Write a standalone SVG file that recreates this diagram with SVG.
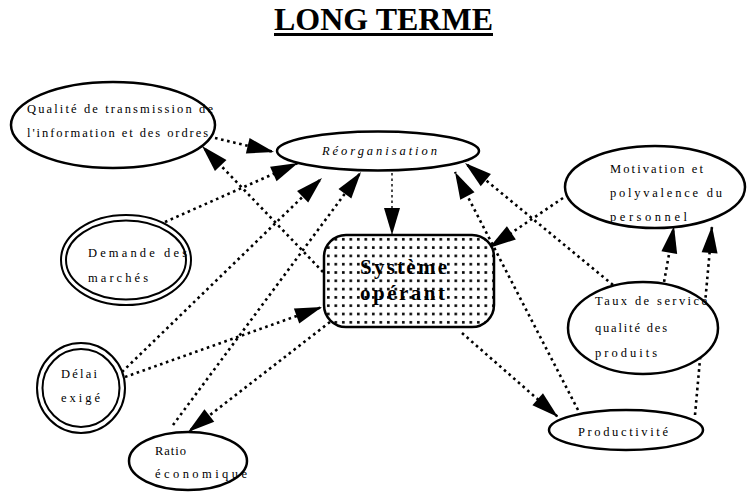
<svg xmlns="http://www.w3.org/2000/svg" width="749" height="493" viewBox="0 0 749 493">
<style>
.node{fill:#fff;stroke:#000;stroke-width:2.5}
.dbl{fill:none;stroke:#000;stroke-width:2}
.t{font-family:"Liberation Serif","Times New Roman",serif;font-size:12.5px;fill:#000}
.e{fill:none;stroke:#000;stroke-width:2.6;stroke-dasharray:2.6 3.6;marker-end:url(#ah)}
.thin{fill:none;stroke:#000;stroke-width:1.4;stroke-dasharray:2.5 3;marker-end:url(#ah)}
</style>
<defs>
<marker id="ah" markerUnits="userSpaceOnUse" markerWidth="28" markerHeight="16" refX="27" refY="8" orient="auto" overflow="visible">
<path d="M0,0 L27,8 L0,16 Z" fill="#000"/>
</marker>
<pattern id="dots" width="7.5" height="8.3" patternUnits="userSpaceOnUse" x="326" y="237">
<rect width="7.5" height="8.3" fill="#fff"/>
<rect x="1" y="1" width="2.6" height="2.6" fill="#000"/>
</pattern>
</defs>
<rect width="749" height="493" fill="#fff"/>
<g id="title">
<text x="383.5" y="30" text-anchor="middle" font-family="'Liberation Serif','Times New Roman',serif" font-size="31" font-weight="bold" textLength="219" lengthAdjust="spacingAndGlyphs">LONG TERME</text>
<rect x="274" y="33" width="219" height="3" fill="#000"/>
</g>
<g id="connectors">
<path class="e" d="M215,138 L274,152"/>
<path class="e" d="M323,272 L202,146"/>
<path class="e" d="M165,222 L298,163"/>
<path class="e" d="M122,372 L322,178"/>
<path class="e" d="M125,377 L322,307"/>
<path class="e" d="M173,425 L361,172"/>
<path class="e" d="M330,322 L188,432"/>
<path class="thin" d="M392,173 L392,235"/>
<path class="e" d="M563,198 L489,248"/>
<path class="e" d="M578,410 L455,172"/>
<path class="e" d="M613,285 L465,163"/>
<path class="e" d="M462,333 L558,417"/>
<path class="e" d="M663,288 L674,226"/>
<path class="e" d="M695,415 L712,226"/>
</g>
<g id="qualite">
<ellipse class="node" cx="113" cy="125" rx="102" ry="43"/>
<text class="t" x="27" y="113" textLength="186" lengthAdjust="spacing">Qualité de transmission de</text>
<text class="t" x="27" y="137" textLength="181" lengthAdjust="spacing">l'information et des ordres</text>
</g>
<g id="reorganisation">
<ellipse class="node" cx="378" cy="151" rx="101" ry="19.5"/>
<text class="t" x="322" y="155" font-size="13.5" font-style="italic" textLength="115" lengthAdjust="spacing">Réorganisation</text>
</g>
<g id="motivation">
<ellipse class="node" cx="655" cy="187" rx="90" ry="41"/>
<text class="t" x="610" y="173" textLength="93" lengthAdjust="spacing">Motivation et</text>
<text class="t" x="610" y="197" textLength="112" lengthAdjust="spacing">polyvalence du</text>
<text class="t" x="610" y="221" textLength="77" lengthAdjust="spacing">personnel</text>
</g>
<g id="systeme">
<rect x="324" y="235" width="170" height="92" rx="22" ry="22" fill="url(#dots)" stroke="#000" stroke-width="2.5"/>
<text x="360" y="274" font-family="'Liberation Serif','Times New Roman',serif" font-size="21" font-weight="bold" textLength="87" lengthAdjust="spacing">Système</text>
<text x="360" y="300" font-family="'Liberation Serif','Times New Roman',serif" font-size="21" font-weight="bold" textLength="85" lengthAdjust="spacing">opérant</text>
</g>
<g id="demande">
<ellipse class="dbl" cx="126" cy="260" rx="65" ry="45"/>
<ellipse class="dbl" cx="126" cy="260" rx="60" ry="39.5"/>
<text class="t" x="88" y="257" textLength="99" lengthAdjust="spacing">Demande des</text>
<text class="t" x="88" y="282" textLength="60" lengthAdjust="spacing">marchés</text>
</g>
<g id="delai">
<ellipse class="dbl" cx="81" cy="388" rx="44" ry="45"/>
<ellipse class="dbl" cx="81" cy="388" rx="38.5" ry="39"/>
<text class="t" x="61" y="378" textLength="36" lengthAdjust="spacing">Délai</text>
<text class="t" x="61" y="402" textLength="39" lengthAdjust="spacing">exigé</text>
</g>
<g id="ratio">
<ellipse class="node" cx="188" cy="461" rx="59" ry="29"/>
<text class="t" x="155" y="455" textLength="31" lengthAdjust="spacing">Ratio</text>
<text class="t" x="155" y="478" textLength="92" lengthAdjust="spacing">économique</text>
</g>
<g id="taux">
<ellipse class="node" cx="643" cy="328" rx="75" ry="46"/>
<text class="t" x="595" y="305" textLength="112" lengthAdjust="spacing">Taux de service</text>
<text class="t" x="595" y="332" textLength="72" lengthAdjust="spacing">qualité des</text>
<text class="t" x="595" y="357" textLength="62" lengthAdjust="spacing">produits</text>
</g>
<g id="productivite">
<ellipse class="node" cx="626" cy="430" rx="77" ry="20"/>
<text class="t" x="578" y="436" textLength="90" lengthAdjust="spacing">Productivité</text>
</g>
</svg>
